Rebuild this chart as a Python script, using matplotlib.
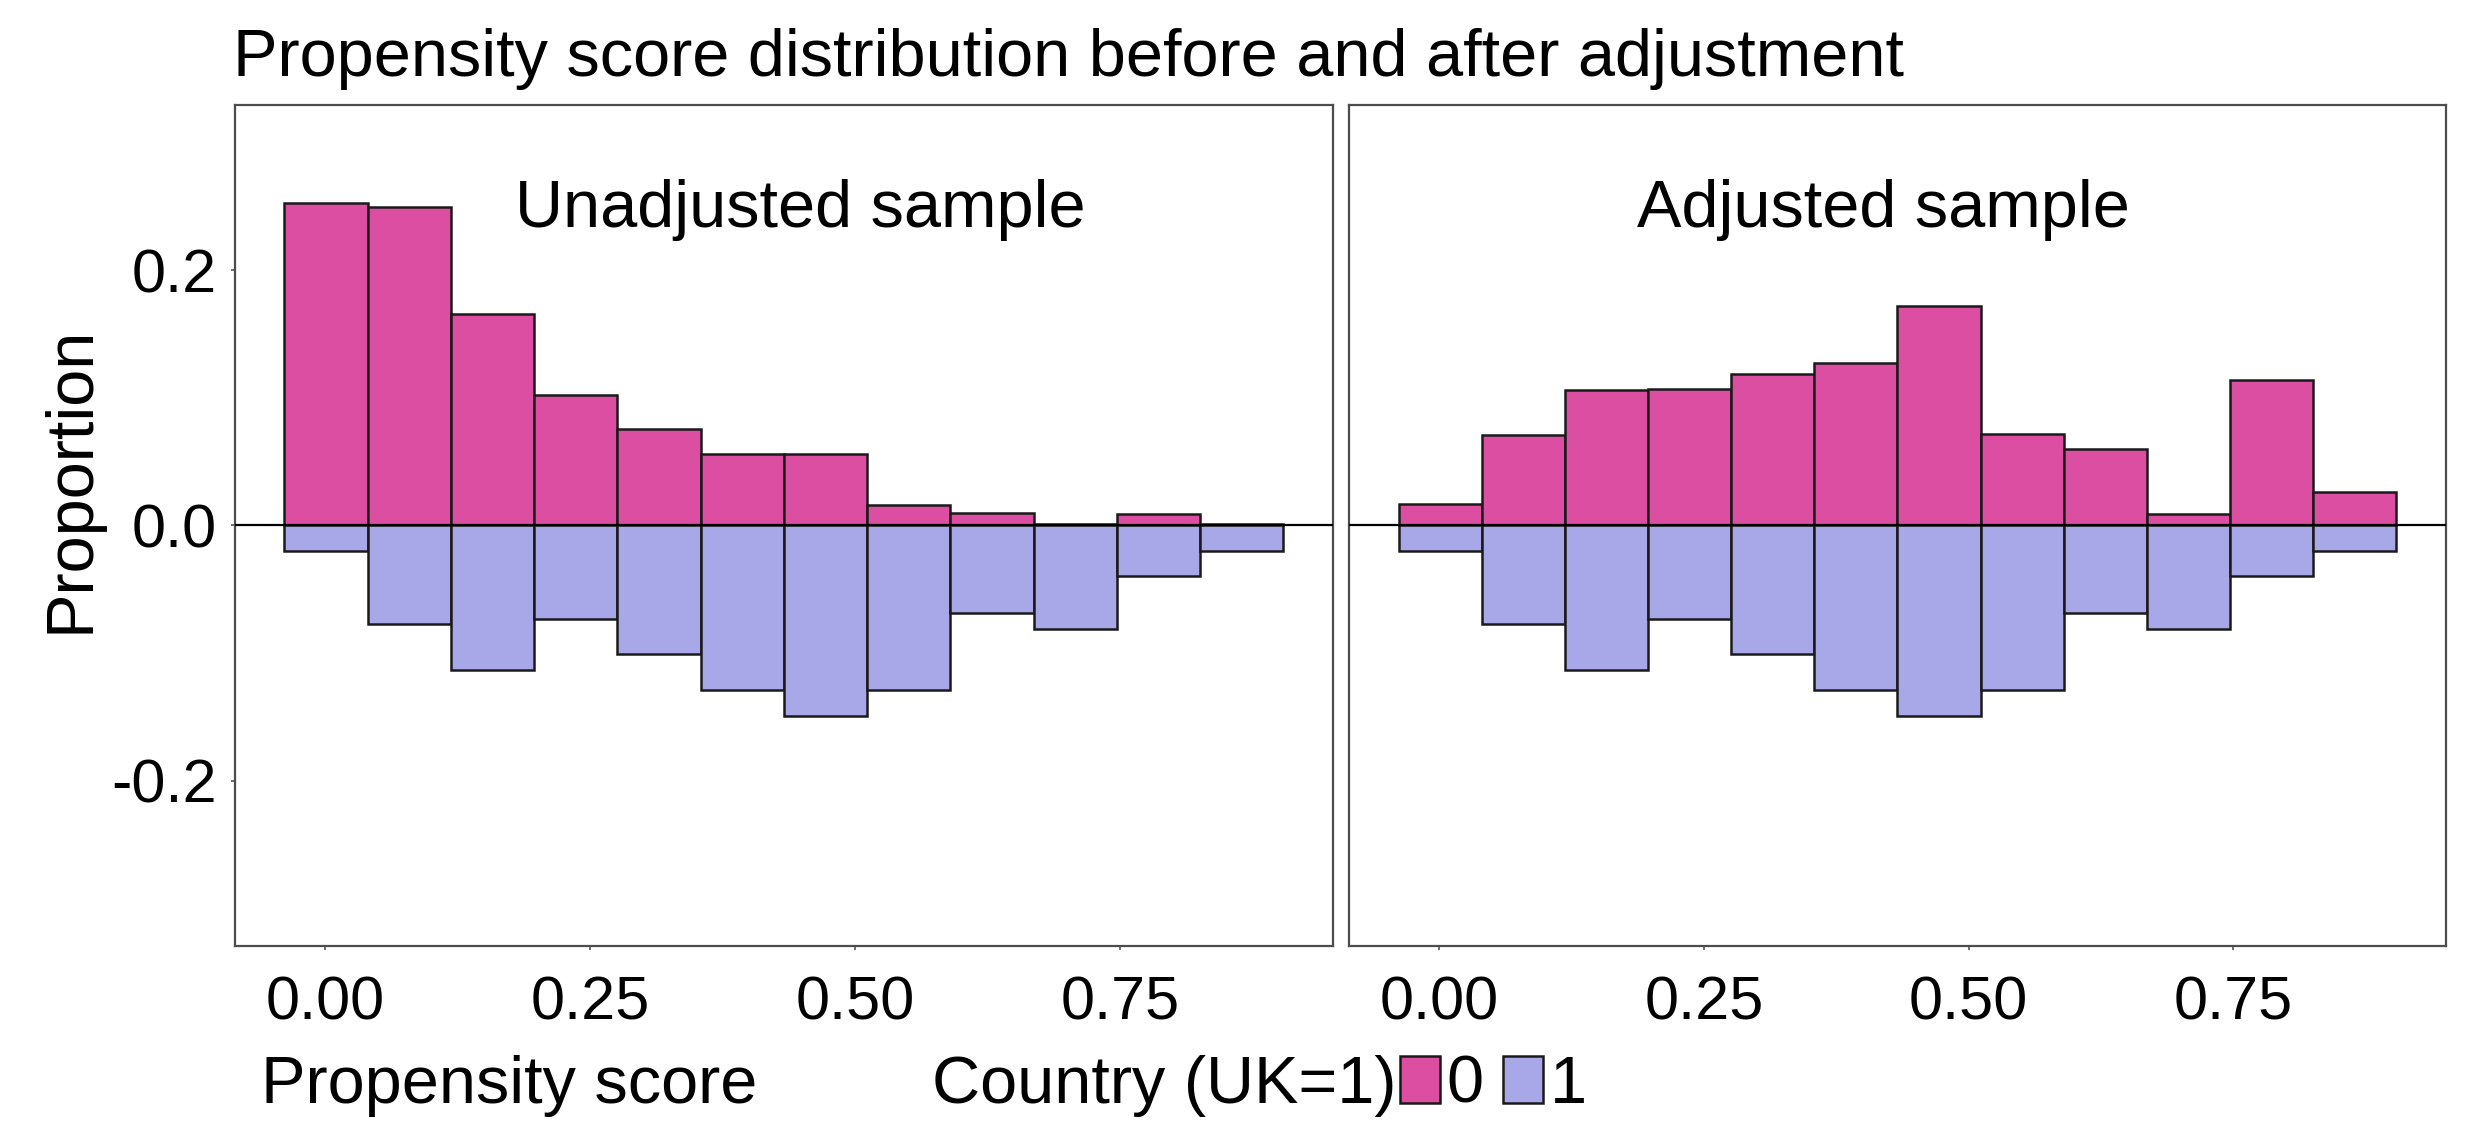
import numpy as np
import matplotlib.pyplot as plt
from matplotlib.patches import Patch

# histogram bins (propensity score) and proportions
score_bins = [0.001, 0.0795, 0.158, 0.2365, 0.315, 0.3935, 0.472, 0.5505, 0.629, 0.7075, 0.786, 0.8645]
bin_width = 0.0785

unadj_uk0 = [0.253, 0.250, 0.166, 0.102, 0.076, 0.056, 0.056, 0.016, 0.010, 0.001, 0.009, 0.001]
adj_uk0 = [0.017, 0.071, 0.106, 0.107, 0.119, 0.127, 0.172, 0.072, 0.060, 0.009, 0.114, 0.026]
uk1 = [0.020, 0.077, 0.113, 0.073, 0.101, 0.129, 0.149, 0.129, 0.069, 0.081, 0.040, 0.020]

panel_titles = ['Unadjusted sample', 'Adjusted sample']
x_ticks = [0.00, 0.25, 0.50, 0.75]
x_tick_labels = ['0.00', '0.25', '0.50', '0.75']
y_ticks = [-0.2, 0.0, 0.2]
y_tick_labels = ['-0.2', '0.0', '0.2']
legend_labels = ['0', '1']

pink = '#dc4ea1'
lilac = '#a8a8e8'
edge = '#1a1a1a'

plt.rcParams['font.family'] = ['Liberation Sans', 'DejaVu Sans']

fig = plt.figure(figsize=(12.43, 5.62), dpi=200)
ax1 = fig.add_axes([0.0944, 0.158, 0.442, 0.749])
ax2 = fig.add_axes([0.5427, 0.158, 0.4413, 0.749])

panels = [(ax1, unadj_uk0, 0.515), (ax2, adj_uk0, 0.487)]
for i, (ax, top, tx) in enumerate(panels):
    ax.bar(score_bins, top, width=bin_width, color=pink, edgecolor=edge, linewidth=0.9)
    ax.bar(score_bins, -np.array(uk1), width=bin_width, color=lilac, edgecolor=edge, linewidth=0.9)
    ax.axhline(0, color='black', linewidth=0.8, zorder=3)
    ax.set_xlim(-0.085, 0.951)
    ax.set_ylim(-0.33, 0.33)
    ax.set_xticks(x_ticks)
    ax.set_xticklabels(x_tick_labels, fontsize=22)
    ax.set_yticks(y_ticks)
    if i == 0:
        ax.set_yticklabels(y_tick_labels, fontsize=22)
    else:
        ax.tick_params(axis='y', left=False, labelleft=False)
    ax.tick_params(axis='x', length=1.5, width=0.6, color='#555555', pad=9)
    ax.tick_params(axis='y', length=1.5, width=0.6, color='#555555', pad=5)
    for s in ax.spines.values():
        s.set_color('#4d4d4d')
        s.set_linewidth(0.8)
    ax.text(tx, 0.855, panel_titles[i], transform=ax.transAxes, ha='center', va='baseline', fontsize=24)

fig.text(0.0938, 0.932, 'Propensity score distribution before and after adjustment', fontsize=24, va='baseline')
fig.text(0.0287, 0.574, 'Proportion', rotation=90, fontsize=24, ha='center', va='center')
fig.text(0.105, 0.034, 'Propensity score', fontsize=24, va='center')
fig.text(0.375, 0.034, 'Country (UK=1)', fontsize=24, va='center')

handles = [Patch(facecolor=pink, edgecolor=edge, linewidth=0.9),
           Patch(facecolor=lilac, edgecolor=edge, linewidth=0.9)]
fig.legend(handles, legend_labels, loc='center left', bbox_to_anchor=(0.563, 0.034), ncol=2,
           frameon=False, fontsize=24, handlelength=0.6, handleheight=0.7, handletextpad=0.1,
           columnspacing=0.3, borderpad=0, borderaxespad=0)

fig.savefig('out.png', dpi=200)
